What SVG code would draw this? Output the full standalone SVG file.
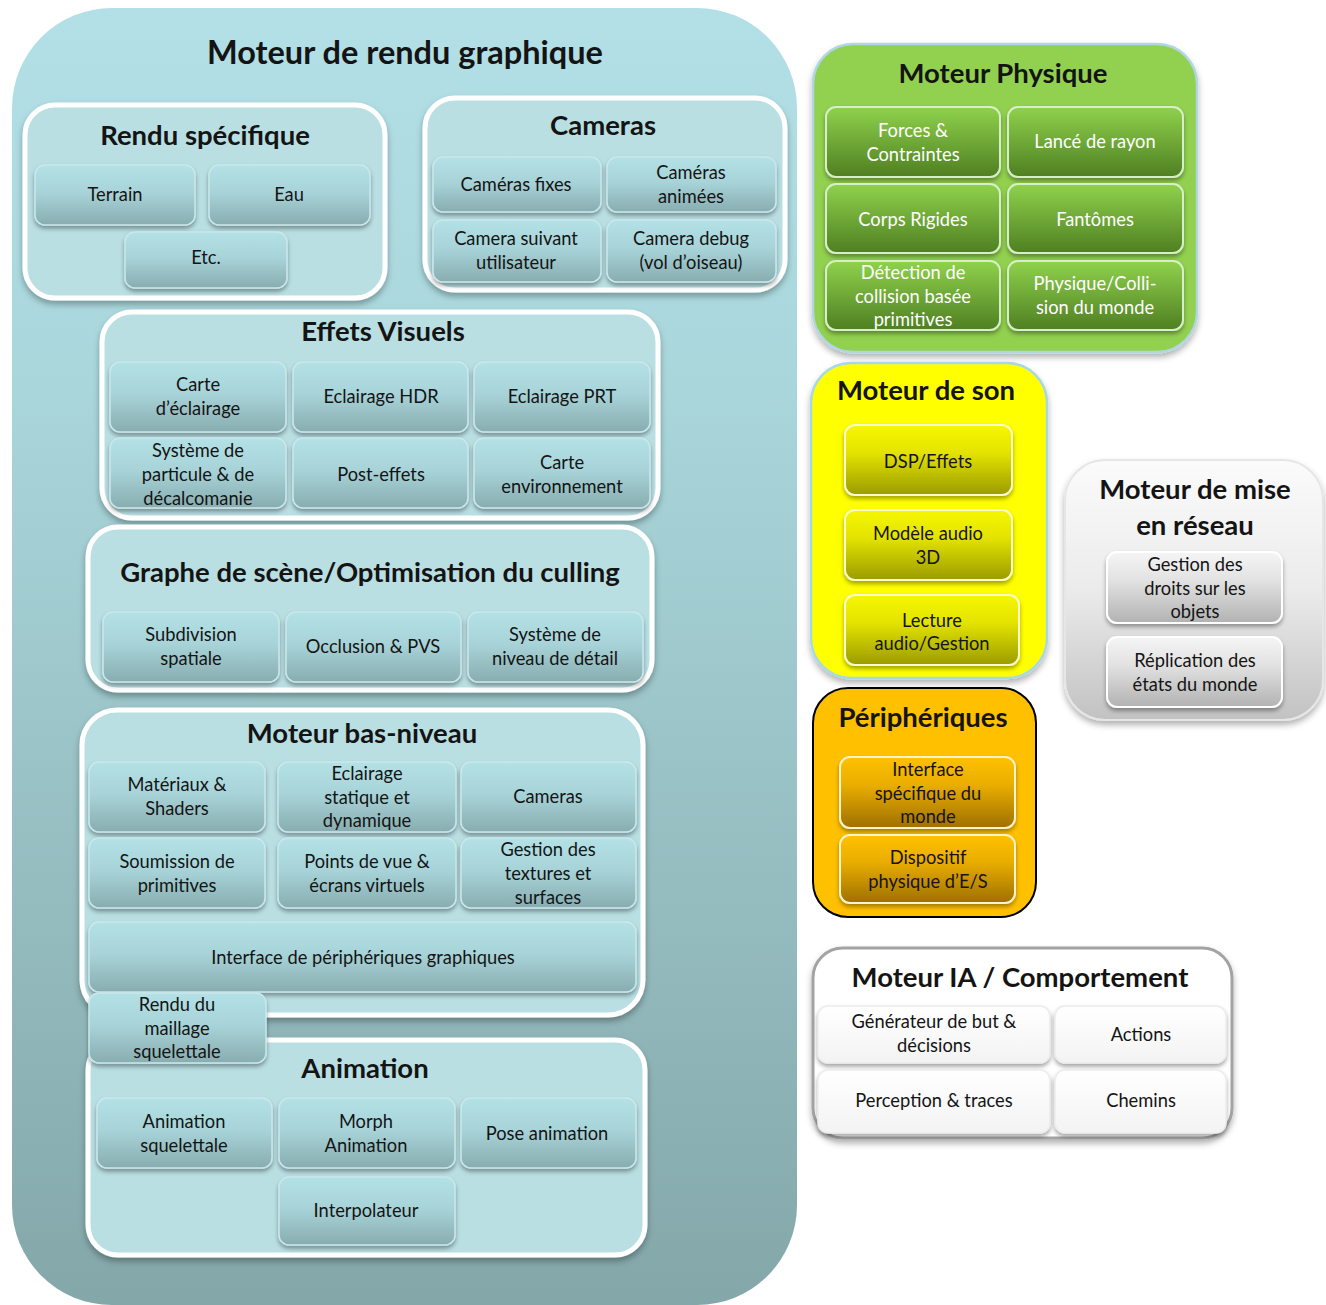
<svg xmlns="http://www.w3.org/2000/svg" width="1326" height="1305" viewBox="0 0 1326 1305">
<defs>
<linearGradient id="gOuter" x1="0" y1="0" x2="0" y2="1"><stop offset="0" stop-color="#b2e0e6"/><stop offset="0.3" stop-color="#a9d6db"/><stop offset="1" stop-color="#84a7a9"/></linearGradient>
<linearGradient id="gTeal" x1="0" y1="0" x2="0" y2="1"><stop offset="0" stop-color="#b3e1e6"/><stop offset="0.45" stop-color="#a8d4d9"/><stop offset="1" stop-color="#88adb0"/></linearGradient>
<linearGradient id="gGreen" x1="0" y1="0" x2="0" y2="1"><stop offset="0" stop-color="#8fd24c"/><stop offset="1" stop-color="#4f7f22"/></linearGradient>
<linearGradient id="gYellow" x1="0" y1="0" x2="0" y2="1"><stop offset="0" stop-color="#f7f700"/><stop offset="0.4" stop-color="#e3e300"/><stop offset="1" stop-color="#9b9b06"/></linearGradient>
<linearGradient id="gOrange" x1="0" y1="0" x2="0" y2="1"><stop offset="0" stop-color="#ffc100"/><stop offset="0.4" stop-color="#e9ad00"/><stop offset="1" stop-color="#9e7000"/></linearGradient>
<linearGradient id="gGray" x1="0" y1="0" x2="0" y2="1"><stop offset="0" stop-color="#f5f5f5"/><stop offset="0.4" stop-color="#e2e2e2"/><stop offset="1" stop-color="#b2b2b2"/></linearGradient>
<linearGradient id="gNet" x1="0" y1="0" x2="0" y2="1"><stop offset="0" stop-color="#fbfbfb"/><stop offset="0.5" stop-color="#ebebeb"/><stop offset="1" stop-color="#c2c2c2"/></linearGradient>
<linearGradient id="gWhite" x1="0" y1="0" x2="0" y2="1"><stop offset="0" stop-color="#ffffff"/><stop offset="1" stop-color="#f3f3f3"/></linearGradient>
<filter id="sh" x="-10%" y="-10%" width="120%" height="130%"><feDropShadow dx="0" dy="3" stdDeviation="2" flood-color="#000" flood-opacity="0.35"/></filter>
<filter id="shb" x="-10%" y="-10%" width="120%" height="120%"><feDropShadow dx="0" dy="4" stdDeviation="3" flood-color="#000" flood-opacity="0.3"/></filter>
</defs>
<style>
text{font-family:Lato,"Liberation Sans",sans-serif;text-anchor:middle;fill:#141414}
.t{font-size:18.3px}
.h{font-size:27.5px;font-weight:700}
.w{fill:#ffffff}
.sub{fill:#b9dfe3;stroke:#ffffff;stroke-width:5;filter:url(#shb)}
.tc{fill:url(#gTeal);stroke:#c9e8eb;stroke-width:1.5;filter:url(#sh)}
.gc{fill:url(#gGreen);stroke:#d6efc8;stroke-width:2;filter:url(#sh)}
.yc{fill:url(#gYellow);stroke:#fbfbd0;stroke-width:2;filter:url(#sh)}
.oc{fill:url(#gOrange);stroke:#fff3cf;stroke-width:2;filter:url(#sh)}
.nc{fill:url(#gGray);stroke:#ffffff;stroke-width:2;filter:url(#sh)}
.ic{fill:url(#gWhite);stroke:#ececec;stroke-width:1.5;filter:url(#sh)}
</style>
<rect width="1326" height="1305" fill="#ffffff"/>

<g id="moteur-rendu">
<rect x="12" y="8" width="785" height="1297" rx="100" fill="url(#gOuter)"/>
<text class="h" x="405" y="64" style="font-size:32.5px">Moteur de rendu graphique</text>
</g>

<g id="rendu-specifique">
<rect class="sub" x="25" y="105" width="360" height="193" rx="30"/>
<text class="h" x="205" y="145">Rendu spécifique</text>
<g id="terrain"><rect class="tc" x="35" y="165" width="160" height="60" rx="10"/><text class="t" x="115" y="201">Terrain</text></g>
<g id="eau"><rect class="tc" x="209" y="165" width="161" height="60" rx="10"/><text class="t" x="289" y="201">Eau</text></g>
<g id="etc"><rect class="tc" x="125" y="232" width="162" height="56" rx="10"/><text class="t" x="206" y="264">Etc.</text></g>
</g>

<g id="cameras">
<rect class="sub" x="425" y="98" width="360" height="192" rx="30"/>
<text class="h" x="603" y="135">Cameras</text>
<g id="cam-fixes"><rect class="tc" x="433" y="157" width="168" height="55" rx="10"/><text class="t" x="516" y="191">Caméras fixes</text></g>
<g id="cam-animees"><rect class="tc" x="607" y="157" width="169" height="55" rx="10"/><text class="t" x="691" y="179">Caméras<tspan x="691" dy="24">animées</tspan></text></g>
<g id="cam-suivant"><rect class="tc" x="433" y="220" width="168" height="62" rx="10"/><text class="t" x="516" y="245">Camera suivant<tspan x="516" dy="24">utilisateur</tspan></text></g>
<g id="cam-debug"><rect class="tc" x="607" y="220" width="169" height="62" rx="10"/><text class="t" x="691" y="245">Camera debug<tspan x="691" dy="24">(vol d’oiseau)</tspan></text></g>
</g>

<g id="effets-visuels">
<rect class="sub" x="102" y="312" width="556" height="206" rx="30"/>
<text class="h" x="383" y="341">Effets Visuels</text>
<g id="carte-eclairage"><rect class="tc" x="110" y="362" width="176" height="70" rx="10"/><text class="t" x="198" y="391">Carte<tspan x="198" dy="24">d’éclairage</tspan></text></g>
<g id="eclairage-hdr"><rect class="tc" x="293" y="362" width="175" height="70" rx="10"/><text class="t" x="381" y="403">Eclairage HDR</text></g>
<g id="eclairage-prt"><rect class="tc" x="474" y="362" width="176" height="70" rx="10"/><text class="t" x="562" y="403">Eclairage PRT</text></g>
<g id="particules"><rect class="tc" x="110" y="438" width="176" height="70" rx="10"/><text class="t" x="198" y="457">Système de<tspan x="198" dy="24">particule &amp; de</tspan><tspan x="198" dy="24">décalcomanie</tspan></text></g>
<g id="post-effets"><rect class="tc" x="293" y="438" width="175" height="70" rx="10"/><text class="t" x="381" y="481">Post-effets</text></g>
<g id="carte-env"><rect class="tc" x="474" y="438" width="176" height="70" rx="10"/><text class="t" x="562" y="469">Carte<tspan x="562" dy="24">environnement</tspan></text></g>
</g>

<g id="graphe-scene">
<rect class="sub" x="88" y="527" width="564" height="163" rx="30"/>
<text class="h" x="370" y="582">Graphe de scène/Optimisation du culling</text>
<g id="subdivision"><rect class="tc" x="103" y="612" width="176" height="70" rx="10"/><text class="t" x="191" y="641">Subdivision<tspan x="191" dy="24">spatiale</tspan></text></g>
<g id="occlusion"><rect class="tc" x="286" y="612" width="175" height="70" rx="10"/><text class="t" x="373" y="653">Occlusion &amp; PVS</text></g>
<g id="lod"><rect class="tc" x="468" y="612" width="175" height="70" rx="10"/><text class="t" x="555" y="641">Système de<tspan x="555" dy="24">niveau de détail</tspan></text></g>
</g>

<g id="bas-niveau">
<rect class="sub" x="82" y="710" width="561" height="305" rx="35"/>
<text class="h" x="362" y="743">Moteur bas-niveau</text>
<g id="materiaux"><rect class="tc" x="89" y="762" width="176" height="70" rx="10"/><text class="t" x="177" y="791">Matériaux &amp;<tspan x="177" dy="24">Shaders</tspan></text></g>
<g id="eclairage-stat"><rect class="tc" x="278" y="762" width="178" height="70" rx="10"/><text class="t" x="367" y="780">Eclairage<tspan x="367" dy="23.5">statique et</tspan><tspan x="367" dy="23.5">dynamique</tspan></text></g>
<g id="bn-cameras"><rect class="tc" x="461" y="762" width="175" height="70" rx="10"/><text class="t" x="548" y="803">Cameras</text></g>
<g id="soumission"><rect class="tc" x="89" y="838" width="176" height="70" rx="10"/><text class="t" x="177" y="868">Soumission de<tspan x="177" dy="24">primitives</tspan></text></g>
<g id="points-vue"><rect class="tc" x="278" y="838" width="178" height="70" rx="10"/><text class="t" x="367" y="868">Points de vue &amp;<tspan x="367" dy="24">écrans virtuels</tspan></text></g>
<g id="textures"><rect class="tc" x="461" y="838" width="175" height="70" rx="10"/><text class="t" x="548" y="856">Gestion des<tspan x="548" dy="24">textures et</tspan><tspan x="548" dy="24">surfaces</tspan></text></g>
<g id="interface-graph"><rect class="tc" x="89" y="922" width="547" height="70" rx="10"/><text class="t" x="363" y="964">Interface de périphériques graphiques</text></g>
</g>

<g id="animation">
<rect class="sub" x="88" y="1040" width="557" height="215" rx="30"/>
<text class="h" x="365" y="1078">Animation</text>
<g id="anim-squel"><rect class="tc" x="97" y="1098" width="175" height="70" rx="10"/><text class="t" x="184" y="1128">Animation<tspan x="184" dy="24">squelettale</tspan></text></g>
<g id="morph"><rect class="tc" x="279" y="1098" width="176" height="70" rx="10"/><text class="t" x="366" y="1128">Morph<tspan x="366" dy="24">Animation</tspan></text></g>
<g id="pose"><rect class="tc" x="461" y="1098" width="175" height="70" rx="10"/><text class="t" x="547" y="1140">Pose animation</text></g>
<g id="interpolateur"><rect class="tc" x="279" y="1177" width="176" height="68" rx="10"/><text class="t" x="366" y="1217">Interpolateur</text></g>
</g>

<g id="rendu-maillage"><rect class="tc" x="89" y="993" width="177" height="70" rx="10"/><text class="t" x="177" y="1011">Rendu du<tspan x="177" dy="23.5">maillage</tspan><tspan x="177" dy="23.5">squelettale</tspan></text></g>

<g id="physique">
<rect x="813" y="44" width="384" height="308" rx="40" fill="#92d050" stroke="#b0d6e4" stroke-width="2.5" filter="url(#shb)"/>
<text class="h" x="1003" y="83">Moteur Physique</text>
<g id="forces"><rect class="gc" x="826" y="107" width="174" height="70" rx="10"/><text class="t w" x="913" y="137">Forces &amp;<tspan x="913" dy="24">Contraintes</tspan></text></g>
<g id="lance-rayon"><rect class="gc" x="1008" y="107" width="175" height="70" rx="10"/><text class="t w" x="1095" y="148">Lancé de rayon</text></g>
<g id="corps-rigides"><rect class="gc" x="826" y="184" width="174" height="69" rx="10"/><text class="t w" x="913" y="226">Corps Rigides</text></g>
<g id="fantomes"><rect class="gc" x="1008" y="184" width="175" height="69" rx="10"/><text class="t w" x="1095" y="226">Fantômes</text></g>
<g id="detection"><rect class="gc" x="826" y="261" width="174" height="69" rx="10"/><text class="t w" x="913" y="279">Détection de<tspan x="913" dy="23.5">collision basée</tspan><tspan x="913" dy="23.5">primitives</tspan></text></g>
<g id="physique-monde"><rect class="gc" x="1008" y="261" width="175" height="69" rx="10"/><text class="t w" x="1095" y="290">Physique/Colli-<tspan x="1095" dy="24">sion du monde</tspan></text></g>
</g>

<g id="son">
<rect x="811" y="363" width="236" height="315" rx="40" fill="#ffff00" stroke="#a8d8e6" stroke-width="2.5" filter="url(#shb)"/>
<text class="h" x="926" y="400">Moteur de son</text>
<g id="dsp"><rect class="yc" x="845" y="425" width="167" height="70" rx="10"/><text class="t" x="928" y="468">DSP/Effets</text></g>
<g id="audio3d"><rect class="yc" x="845" y="510" width="167" height="70" rx="10"/><text class="t" x="928" y="540">Modèle audio<tspan x="928" dy="24">3D</tspan></text></g>
<g id="lecture"><rect class="yc" x="845" y="595" width="174" height="70" rx="10"/><text class="t" x="932" y="627">Lecture<tspan x="932" dy="23">audio/Gestion</tspan></text></g>
</g>

<g id="peripheriques">
<rect x="813" y="688" width="223" height="229" rx="35" fill="#ffc000" stroke="#000000" stroke-width="2"/>
<text class="h" x="923" y="727">Périphériques</text>
<g id="interface-monde"><rect class="oc" x="840" y="757" width="175" height="71" rx="10"/><text class="t" x="928" y="776">Interface<tspan x="928" dy="23.5">spécifique du</tspan><tspan x="928" dy="23.5">monde</tspan></text></g>
<g id="dispositif"><rect class="oc" x="840" y="835" width="175" height="68" rx="10"/><text class="t" x="928" y="864">Dispositif<tspan x="928" dy="24">physique d’E/S</tspan></text></g>
</g>

<g id="reseau">
<rect x="1065" y="460" width="258" height="260" rx="40" fill="url(#gNet)" stroke="#e6e6e6" stroke-width="2" filter="url(#shb)"/>
<text class="h" x="1195" y="499">Moteur de mise<tspan x="1195" dy="36">en réseau</tspan></text>
<g id="droits"><rect class="nc" x="1107" y="552" width="175" height="71" rx="10"/><text class="t" x="1195" y="571">Gestion des<tspan x="1195" dy="23.5">droits sur les</tspan><tspan x="1195" dy="23.5">objets</tspan></text></g>
<g id="replication"><rect class="nc" x="1107" y="637" width="175" height="70" rx="10"/><text class="t" x="1195" y="667">Réplication des<tspan x="1195" dy="24">états du monde</tspan></text></g>
</g>

<g id="ia">
<rect x="813" y="948" width="419" height="190" rx="30" fill="#ffffff" stroke="#a3a3a3" stroke-width="3" filter="url(#shb)"/>
<text class="h" x="1020" y="987">Moteur IA / Comportement</text>
<g id="generateur"><rect class="ic" x="818" y="1006" width="232" height="57" rx="10"/><text class="t" x="934" y="1028">Générateur de but &amp;<tspan x="934" dy="24">décisions</tspan></text></g>
<g id="actions"><rect class="ic" x="1055" y="1006" width="171" height="57" rx="10"/><text class="t" x="1141" y="1041">Actions</text></g>
<g id="perception"><rect class="ic" x="818" y="1070" width="232" height="63" rx="10"/><text class="t" x="934" y="1107">Perception &amp; traces</text></g>
<g id="chemins"><rect class="ic" x="1055" y="1070" width="171" height="63" rx="10"/><text class="t" x="1141" y="1107">Chemins</text></g>
</g>

<g id="connectors"/>
</svg>
